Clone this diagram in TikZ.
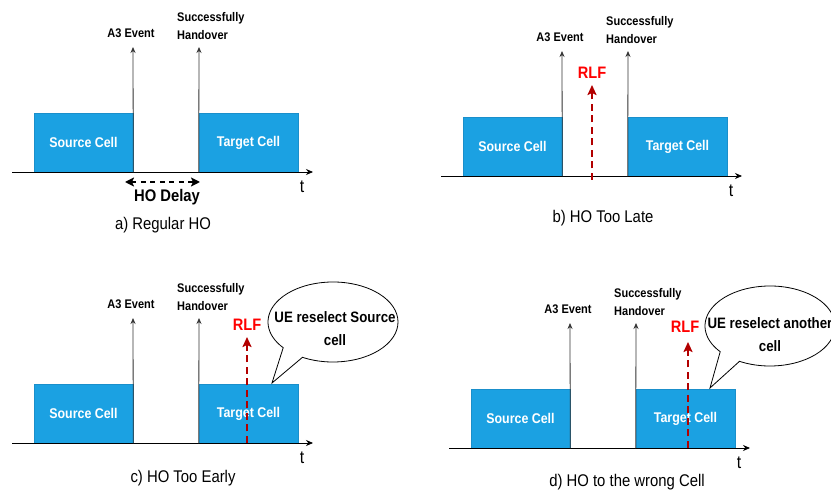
\documentclass[tikz,border=0pt]{standalone}
\usepackage{fontspec}
\setmainfont{Liberation Sans}[FakeStretch=0.88]
\usetikzlibrary{arrows.meta}
\definecolor{cellblue}{HTML}{1BA1E2}
\definecolor{cellborder}{HTML}{1A8FCB}
\definecolor{rlftext}{HTML}{FF0000}
\definecolor{rlfline}{HTML}{B20000}
\definecolor{evline}{HTML}{333333}

\newcommand\hopanel{%
  \coordinate (ax0) at (12,172);
  \coordinate (ax1) at (313,172);
  \node[cellbox] (src) at (83.5,142.5) {Source Cell};
  \node[cellbox] (tgt) at (248.5,142.5) {Target Cell};
  \draw[axisline] (ax0) -- (ax1);
  \coordinate (a3top) at (133,47);
  \coordinate (shtop) at (199,47);
  \draw[evarrow] (src.south east) -- (a3top);
  \draw[evarrow] (tgt.south west) -- (shtop);
  \node[smalllbl] (a3lbl) at (131,33) {A3 Event};
  \node[smalllbl, anchor=west, align=left] (shlbl) at (177,26) {Successfully\\Handover};
  \node[tlbl] (tl) at (302,187) {t};
}

\begin{document}
\begin{tikzpicture}[x=1pt,y=-1pt,
  cellbox/.style={draw=cellborder, fill=cellblue, line width=0.6pt,
    minimum width=99pt, minimum height=59pt, inner sep=0pt, text=white,
    font=\bfseries\fontsize{14.1}{16}\selectfont},
  axisline/.style={draw=black, line width=0.8pt, -{Stealth[length=7pt,width=6pt]}},
  evarrow/.style={draw=evline, line width=0.8pt, -{Stealth[length=6pt,width=5pt]}},
  smalllbl/.style={inner sep=0pt, font=\bfseries\fontsize{12.5}{17.5}\selectfont},
  tlbl/.style={inner sep=0pt, font=\fontsize{18}{20}\selectfont},
  caption/.style={inner sep=0pt, font=\fontsize{16.9}{19}\selectfont},
  rlflbl/.style={inner sep=0pt, text=rlftext, font=\bfseries\fontsize{16.6}{19}\selectfont},
  rlfarrow/.style={draw=rlfline, line width=2pt, dash pattern=on 7pt off 4.5pt,
    -{Stealth[length=10pt,width=9pt,inset=2pt]}},
  hoarrow/.style={draw=black, line width=2pt, dash pattern=on 5pt off 4.5pt,
    {Stealth[length=9pt,width=9pt,inset=2pt]}-{Stealth[length=9pt,width=9pt,inset=2pt]}},
  holbl/.style={inner sep=0pt, font=\bfseries\fontsize{16.8}{19}\selectfont},
  bubble/.style={draw=black, fill=white, line width=0.8pt},
  bubbletext/.style={inner sep=0pt, align=center, font=\bfseries\fontsize{15.1}{23}\selectfont}
]
\useasboundingbox (0,0) rectangle (831,494);

% ---------- a) Regular HO
\begin{scope}[name prefix=a-]
  \hopanel
  \coordinate (hoL) at (125,182);
  \coordinate (hoR) at (200,182);
  \draw[hoarrow] (hoL) -- (hoR);
  \node[holbl] (hodelay) at (167,197) {HO Delay};
\end{scope}
\node[caption] (capa) at (163,225) {a) Regular HO};

% ---------- b) HO Too Late
\begin{scope}[shift={(429,4)}, name prefix=b-]
  \hopanel
  \coordinate (rlfbot) at (163,176);
  \coordinate (rlftop) at (163,81);
  \draw[rlfarrow] (rlfbot) -- (rlftop);
  \node[rlflbl] (rlf) at (163,69) {RLF};
\end{scope}
\node[caption] (capb) at (603,218) {b) HO Too Late};

% ---------- c) HO Too Early
\begin{scope}[shift={(0,271)}, name prefix=c-]
  \hopanel
  \coordinate (bc) at (333,51);
  \coordinate (tip) at (272,112);
  \draw[bubble] (bc) ++(118:65 and 40) arc[start angle=118, end angle=-220, x radius=65, y radius=40] -- (tip) -- cycle;
  \node[bubbletext] (ue) at (335,57.5) {UE reselect Source\\cell};
  \coordinate (rlfbot) at (247,172);
  \coordinate (rlftop) at (247,66);
  \draw[rlfarrow] (rlfbot) -- (rlftop);
  \node[rlflbl] (rlf) at (247,54) {RLF};
\end{scope}
\node[caption] (capc) at (183,478) {c) HO Too Early};

% ---------- d) HO to the wrong Cell
\begin{scope}[shift={(437,276)}, name prefix=d-]
  \hopanel
  \coordinate (bc) at (333,50);
  \coordinate (tip) at (273,112);
  \draw[bubble] (bc) ++(118:65 and 40) arc[start angle=118, end angle=-220, x radius=65, y radius=40] -- (tip) -- cycle;
  \node[bubbletext] (ue) at (333,59) {UE reselect another\\cell};
  \coordinate (rlfbot) at (251,172);
  \coordinate (rlftop) at (251,66);
  \draw[rlfarrow] (rlfbot) -- (rlftop);
  \node[rlflbl] (rlf) at (248,51) {RLF};
\end{scope}
\node[caption] (capd) at (627,482) {d) HO to the wrong Cell};
\end{tikzpicture}
\end{document}
